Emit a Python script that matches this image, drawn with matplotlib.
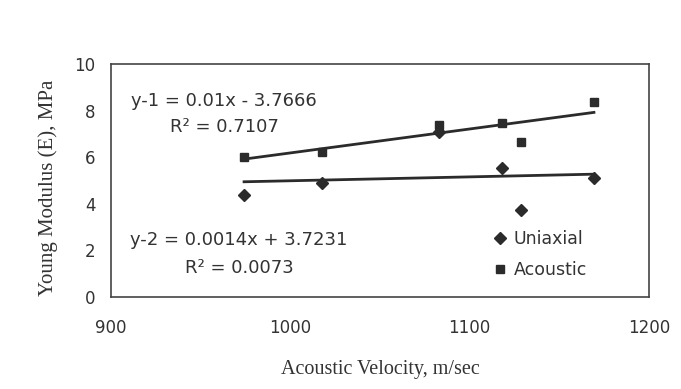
import numpy as np
import matplotlib
matplotlib.use("Agg")
import matplotlib.pyplot as plt

# Data
velocity = [974.2, 1017.5, 1082.9, 1118.2, 1128.5, 1169.3]
uniaxial = [4.38, 4.91, 7.09, 5.52, 3.73, 5.12]
acoustic = [6.02, 6.24, 7.38, 7.48, 6.64, 8.38]

eq_acoustic = ["y-1 = 0.01x - 3.7666", "R\u00b2 = 0.7107"]
eq_uniaxial = ["y-2 = 0.0014x + 3.7231", "R\u00b2 = 0.0073"]

x_ticks = [900, 1000, 1100, 1200]
y_ticks = [0, 2, 4, 6, 8, 10]

dark = "#2b2b2b"
txt = "#333333"

fig = plt.figure(figsize=(6.81, 3.89), dpi=100)
ax = fig.add_axes([0.163, 0.2365, 0.790, 0.599])

x = np.array(velocity)
xs = np.array([x.min(), x.max()])
for ys in (acoustic, uniaxial):
    k, b = np.polyfit(x, np.array(ys), 1)
    ax.plot(xs, k * xs + b, color=dark, lw=2.0, zorder=2)

ax.plot(velocity, uniaxial, linestyle="none", marker="D", markersize=6.3,
        color=dark, label="Uniaxial", zorder=3)
ax.plot(velocity, acoustic, linestyle="none", marker="s", markersize=5.5,
        color=dark, label="Acoustic", zorder=3)

ax.set_xlim(900, 1200)
ax.set_ylim(0, 10)
ax.set_xticks(x_ticks)
ax.set_yticks(y_ticks)
ax.tick_params(axis="both", length=0, labelsize=12, colors=txt)
ax.tick_params(axis="x", pad=16)
ax.tick_params(axis="y", pad=11)
for s in ax.spines.values():
    s.set_color("#444444")
    s.set_linewidth(1.2)

ax.set_xlabel("Acoustic Velocity, m/sec", family="Liberation Serif",
              fontsize=14.5, color=txt)
ax.xaxis.set_label_coords(0.5, -0.27)
ax.set_ylabel("Young Modulus (E), MPa", family="Liberation Serif",
              fontsize=15, color=txt)
ax.yaxis.set_label_coords(-0.098, 0.47)

tf = dict(fontsize=13, color=txt, ha="center", va="center",
          transform=ax.transAxes, family="DejaVu Sans")
ax.text(0.210, 0.8425, eq_acoustic[0], **tf)
ax.text(0.210, 0.730, eq_acoustic[1], **tf)
ax.text(0.238, 0.246, eq_uniaxial[0], **tf)
ax.text(0.238, 0.123, eq_uniaxial[1], **tf)

leg = ax.legend(loc="center left", bbox_to_anchor=(0.710, 0.182),
                frameon=False, fontsize=12.5, handlelength=0.8,
                handletextpad=0.4, borderpad=0, borderaxespad=0,
                labelspacing=0.75)
for t in leg.get_texts():
    t.set_color(txt)

fig.savefig("out.png", dpi=100, facecolor="white")
